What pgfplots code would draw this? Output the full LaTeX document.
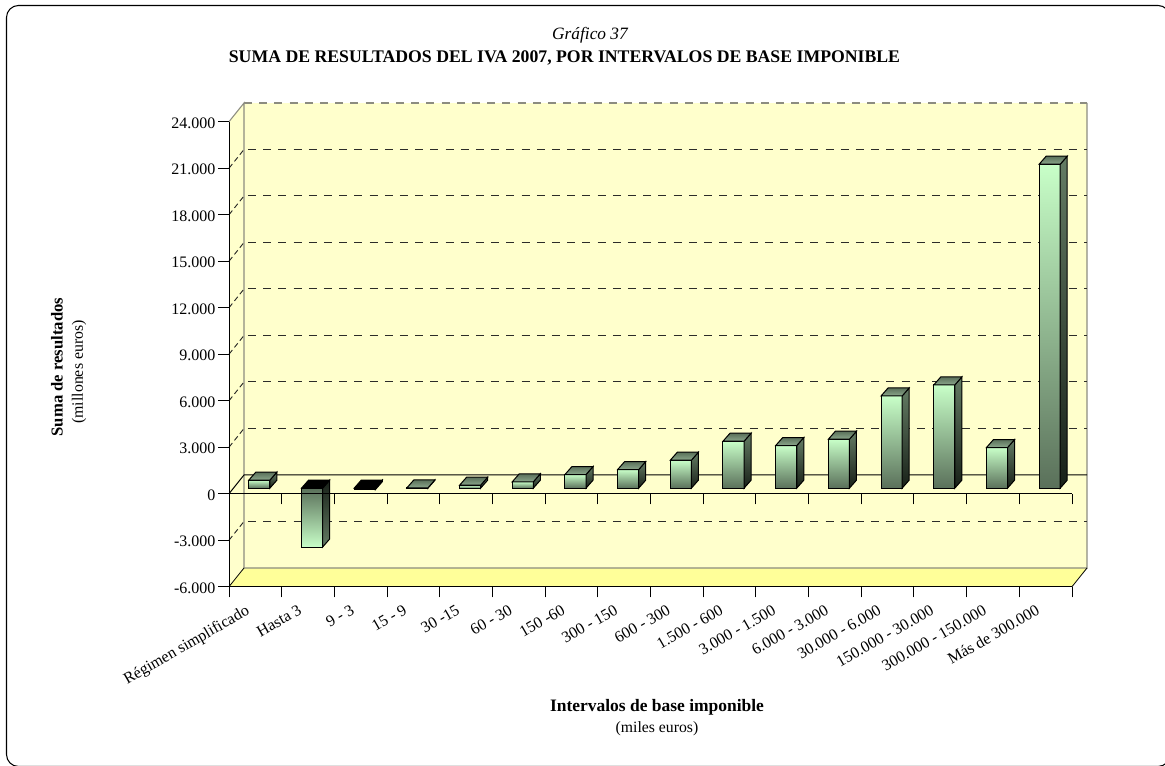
\documentclass[border=0pt]{standalone}
\usepackage{pgfplots}
\pgfplotsset{compat=1.18}
\usepackage{fontspec}
\setmainfont{Liberation Serif}
\definecolor{wall}{HTML}{FFFFCC}
\definecolor{floorc}{HTML}{FFFF99}
\definecolor{edge}{HTML}{8C8C80}
\definecolor{gridc}{HTML}{2C2C28}
\definecolor{lite}{HTML}{C8FFC8}
\definecolor{dark}{HTML}{5A705A}
\definecolor{sidetop}{HTML}{647C64}
\definecolor{sidebot}{HTML}{182018}
\definecolor{toplite}{HTML}{8CA88C}
\definecolor{topdark}{HTML}{5A705A}
\newcommand{\fs}[1]{\fontsize{#1}{#1}\selectfont}
% bar values (thousands of millions of euros)
\def\barvalues{0/0.52,1/-3.8,2/-0.1,3/0.02,4/0.19,5/0.41,6/0.88,7/1.2,8/1.805,9/3.03,10/2.75,11/3.16,12/5.95,13/6.66,14/2.62,15/20.9}
\begin{document}
\begin{tikzpicture}
\path (0,0) rectangle (873.75pt,574.5pt);
\begin{axis}[
  at={(171.75pt,134.475pt)}, anchor=south west,
  scale only axis, width=632.25pt, height=348.75pt,
  xmin=0, xmax=16, ymin=-6000, ymax=24000,
  ytick={-6000,-3000,...,24000},
  scaled y ticks=false,
  xtick={0,...,16}, xticklabels={},
  extra x ticks={0.5,1.5,...,15.5},
  extra x tick labels={Régimen simplificado,Hasta 3,9 - 3,15 - 9,30 -15,60 - 30,150 -60,300 - 150,600 - 300,1.500 - 600,3.000 - 1.500,6.000 - 3.000,30.000 - 6.000,150.000 - 30.000,300.000 - 150.000,Más de 300.000},
  extra x tick style={major tick length=0pt, tick label style={xshift=-8pt, yshift=-12.7pt, rotate=30, anchor=north east, font=\fs{12}, inner sep=0pt}},
  /pgf/number format/.cd, fixed, precision=0, 1000 sep={.}, assume math mode=true,
  /pgfplots/.cd,
  yticklabel style={font=\fs{12}, inner sep=0pt, xshift=-2pt, yshift=-1.2pt},
  tick align=outside, major tick length=8pt,
  axis x line*=bottom, axis y line*=left,
  axis line style={-, black, line width=0.75pt},
  tick style={black, line width=0.7pt},
  clip=false,
  axis on top,
]
% walls and floor
\addplot[draw=none, fill=wall] coordinates {(0,-6000)(0.2846,-4794)(0.2846,25206)(0,24000)} -- cycle;
\addplot[draw=none, fill=wall] coordinates {(0.2846,-4794)(16.2846,-4794)(16.2846,25206)(0.2846,25206)} -- cycle;
\addplot[draw=none, fill=floorc] coordinates {(0,-6000)(16,-6000)(16.2846,-4794)(0.2846,-4794)} -- cycle;
\addplot[edge, line width=0.8pt] coordinates {(0,24000)(0.2846,25206)(0.2846,-4794)(16.2846,-4794)(16.2846,25206)};
\addplot[edge, line width=0.8pt, dash pattern=on 6pt off 5.4pt] coordinates {(0.2846,25206)(16.2846,25206)};
\addplot[black, line width=0.6pt] coordinates {(0,-6000)(0.2846,-4794)};
\addplot[black, line width=0.6pt] coordinates {(16,-6000)(16.2846,-4794)};
% grid lines on side wall and back wall
\foreach \a/\b in {-3000/-1794,3000/4206,6000/7206,9000/10206,12000/13206,15000/16206,18000/19206,21000/22206} {
  \edef\tmp{
  \noexpand\addplot[gridc, line width=0.7pt, dash pattern=on 4pt off 2.5pt] coordinates {(0,\a)(0.2846,\b)};
  \noexpand\addplot[gridc, line width=0.75pt, dash pattern=on 6pt off 5.4pt, dash phase=-3pt] coordinates {(0.2846,\b)(16.2846,\b)};
  }\tmp
}
\addplot[black, line width=0.75pt] coordinates {(0,0)(0.2846,1206)(16.2846,1206)};
\end{axis}
% bars: second axis, shifted to the middle of the depth
\begin{axis}[
  at={(174.75pt,138.6pt)}, anchor=south west,
  scale only axis, width=632.25pt, height=348.75pt,
  xmin=0, xmax=16, ymin=-6, ymax=24,
  hide axis, clip=false,
]
\foreach \c/\v in \barvalues {
  \pgfmathsetmacro{\xa}{\c+0.3}
  \pgfmathsetmacro{\xb}{\c+0.7}
  \pgfmathsetmacro{\xc}{\c+0.833}
  \pgfmathsetmacro{\xd}{\c+0.433}
  \pgfmathsetmacro{\ybk}{\v+0.516}
  \def\zbk{0.516}
  \pgfmathparse{\v<0 ? 1 : 0}
  \ifnum\pgfmathresult=1
    \edef\tmp{
      \noexpand\addplot[draw=black, line width=0.75pt, top color=dark, bottom color=lite] coordinates {(\xa,0)(\xb,0)(\xb,\v)(\xa,\v)} -- cycle;
      \noexpand\addplot[draw=black, line width=0.75pt, top color=sidebot, bottom color=sidetop] coordinates {(\xb,0)(\xc,\zbk)(\xc,\ybk)(\xb,\v)} -- cycle;
      \noexpand\addplot[draw=black, line width=0.75pt, fill=black] coordinates {(\xa,0)(\xb,0)(\xc,\zbk)(\xd,\zbk)} -- cycle;
    }
  \else
    \edef\tmp{
      \noexpand\addplot[draw=black, line width=0.75pt, top color=lite, bottom color=dark] coordinates {(\xa,0)(\xb,0)(\xb,\v)(\xa,\v)} -- cycle;
      \noexpand\addplot[draw=black, line width=0.75pt, top color=sidetop, bottom color=sidebot] coordinates {(\xb,0)(\xc,\zbk)(\xc,\ybk)(\xb,\v)} -- cycle;
      \noexpand\addplot[draw=black, line width=0.75pt, top color=topdark, bottom color=toplite] coordinates {(\xa,\v)(\xb,\v)(\xc,\ybk)(\xd,\ybk)} -- cycle;
    }
  \fi
  \tmp
}
\end{axis}
% front zero line and its ticks
\begin{axis}[
  at={(171.75pt,134.475pt)}, anchor=south west,
  scale only axis, width=632.25pt, height=348.75pt,
  xmin=0, xmax=16, ymin=-6000, ymax=24000,
  axis y line=none, axis x line=middle, axis line style={-, black, line width=0.75pt},
  xtick={0,...,16}, xticklabels={}, tick align=outside, major tick length=8pt,
  tick style={black, line width=0.7pt}, ytick=\empty,
]
\addplot[draw=none] coordinates {(0,0)(16,0)};
\end{axis}
\begin{scope}[x=0.75pt, y=-0.75pt, shift={(0pt,574.5pt)}]
\clip (0,0) rectangle (1165,766);
\draw[black, line width=0.8pt, rounded corners=9pt] (6.5,5.5) rectangle (1170,766.5);
\node[font=\fs{13}\itshape] at (590,35) {Gráfico 37};
\node[font=\fs{13.3}\bfseries] at (564.5,58) {SUMA DE RESULTADOS DEL IVA 2007, POR INTERVALOS DE BASE IMPONIBLE};
\node[font=\fs{13.1}\bfseries] at (657,707) {Intervalos de base imponible};
\node[font=\fs{11.8}] at (657,729) {(miles euros)};
\node[font=\fs{12.5}\bfseries, rotate=90] at (57,367) {Suma de resultados};
\node[font=\fs{11.9}, rotate=90] at (79,372) {(millones euros)};
\end{scope}
\end{tikzpicture}
\end{document}
